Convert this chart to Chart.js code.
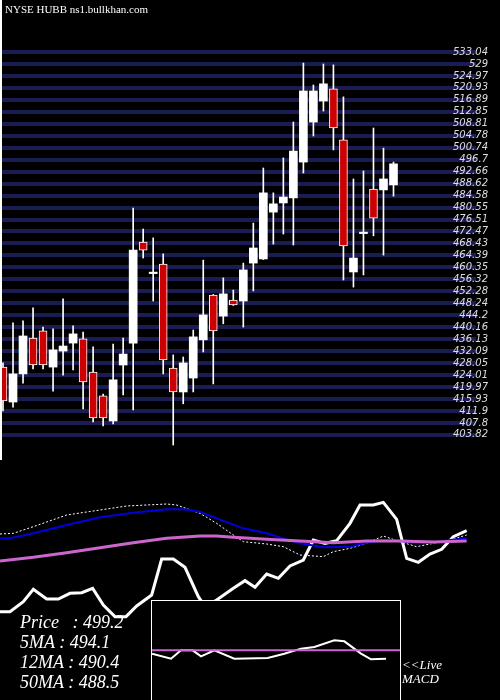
<!doctype html>
<html>
<head>
<meta charset="utf-8">
<script src="https://cdn.jsdelivr.net/npm/chart.js@4"></script>
<style>
  body { margin: 0; background: #000; }
  #wrap { position: relative; width: 500px; height: 700px; background: #000; overflow: hidden; }
  canvas { position: absolute; }
  .t { position: absolute; color: #fff; font-family: "Liberation Serif", serif; font-style: italic; white-space: nowrap; }
  #macdBox { position: absolute; left: 151px; top: 600px; width: 248px; height: 110px; border: 1px solid #fff; background: #000; }
</style>
</head>
<body>
<div id="wrap">
  <canvas id="price" width="500" height="496" style="left:0;top:-17px"></canvas>
  <canvas id="ind" width="500" height="220" style="left:0;top:480px"></canvas>
  <div id="macdBox"><canvas id="macd" width="248" height="100" style="left:0;top:0"></canvas></div>
  <div class="t" style="left:5px;top:3px;font-size:11px;font-style:normal">NYSE HUBB ns1.bullkhan.com</div>
  <div class="t" style="left:20px;top:612px;font-size:18px">Price &nbsp;&nbsp;: 499.2</div>
  <div class="t" style="left:20px;top:632px;font-size:18px">5MA : 494.1</div>
  <div class="t" style="left:20px;top:652px;font-size:18px">12MA : 490.4</div>
  <div class="t" style="left:20px;top:672px;font-size:18px">50MA : 488.5</div>
  <div class="t" style="left:402px;top:657px;font-size:13px">&lt;&lt;Live</div>
  <div class="t" style="left:402px;top:671px;font-size:13px">MACD</div>
</div>
<script>
// candles (oldest -> newest)
const opens  = [426.7,414.9,424.4,436.5,438.9,426.7,432.1,434.8,436.2,425.0,417.0,408.5,427.4,434.8,468.9,458.5,461.5,426.4,418.3,423.0,
                435.9,451.0,443.9,449.3,449.0,461.8,463.2,479.0,482.1,483.8,495.9,509.4,516.5,520.6,503.4,458.8,472.0,486.8,486.5,488.2];
const closes = [415.3,424.4,437.2,427.4,427.4,432.5,433.8,437.9,421.7,409.5,409.5,422.4,431.1,466.2,466.2,458.6,429.1,418.3,428.1,436.9,
                444.3,438.9,451.4,447.7,459.5,466.9,485.5,481.8,484.1,499.6,519.9,519.9,522.3,507.4,467.6,463.5,472.1,477.0,490.2,495.3];
const highs  = [428.1,441.6,442.3,446.7,440.2,439.6,449.7,440.6,438.5,433.5,417.6,434.5,436.5,480.4,473.3,470.3,464.9,430.8,430.1,439.2,
                462.8,451.2,456.8,452.7,461.8,475.3,493.9,485.5,497.3,509.4,529.3,521.9,529.0,528.7,517.9,490.2,492.9,507.4,500.6,495.9];
const lows   = [411.9,413.2,421.3,426.1,426.1,418.6,424.0,425.7,412.6,408.2,406.8,407.5,417.3,412.2,463.5,449.0,424.4,400.4,414.3,418.3,
                431.8,421.0,441.3,447.5,440.2,452.4,463.0,468.2,471.6,467.9,492.2,504.7,513.1,500.0,456.1,453.7,457.8,471.0,464.5,484.4];
const tickLabels = [403.82,407.8,411.9,415.93,419.97,424.01,428.05,432.09,436.13,440.16,444.2,448.24,452.28,456.32,460.35,464.39,
                    468.43,472.47,476.51,480.55,484.58,488.62,492.66,496.7,500.74,504.78,508.81,512.85,516.89,520.93,524.97,529,533.04];

// indicator lines, read as [x, y] from the lower panel
const ma5Line  = [[0,162],[40,160],[100,140],[200,105],[300,90],[380,78],[500,72],[530,75],[600,100],[650,130],[700,165],[730,185],[800,192],
                  [850,200],[900,225],[970,230],[1000,215],[1050,205],[1100,190],[1150,168],[1200,185],[1250,200],[1300,190],[1350,180],[1400,165]];
const ma12Line = [[0,175],[30,175],[100,160],[200,135],[300,112],[400,98],[500,88],[550,88],[600,95],[650,115],[730,145],[800,160],[850,175],
                  [900,190],[970,202],[1050,200],[1100,188],[1150,180],[1200,183],[1250,190],[1300,188],[1350,180],[1400,175]];
const ma50Line = [[0,243],[100,232],[200,218],[300,203],[400,188],[500,175],[600,168],[650,168],[700,172],[800,178],[900,183],[1000,188],
                  [1100,183],[1200,183],[1300,186],[1400,183]];
const oscLine  = [[0,395],[30,395],[70,365],[100,328],[140,357],[175,357],[210,340],[245,338],[278,325],[310,375],[345,410],[378,410],
                  [410,378],[455,345],[485,237],[520,237],[555,262],[595,350],[615,380],[650,360],[700,325],[735,302],[765,322],[800,282],
                  [835,295],[870,258],[910,240],[940,180],[975,190],[1010,182],[1050,130],[1080,75],[1120,75],[1150,67],[1190,118],
                  [1220,235],[1255,247],[1290,222],[1325,208],[1360,170],[1400,152]];
const macdLine   = [[453,520],[510,535],[540,510],[575,510],[600,528],[640,510],[700,535],[800,533],[850,520],[900,505],[940,500],
                    [1000,480],[1030,483],[1080,520],[1110,537],[1155,535]];
const signalLine = [[453,510],[1200,510]];

const RED = '#cc0000';
const idx = opens.map((_, i) => i);
const up = idx.map(i => closes[i] >= opens[i]);

new Chart(document.getElementById('price'), {
  type: 'bar',
  data: {
    datasets: [
      { data: idx.map(i => ({ x: i, y: [lows[i], highs[i]] })), backgroundColor: '#fff', barThickness: 1, grouped: false, order: 2 },
      { data: idx.map(i => ({ x: i, y: Math.abs(opens[i] - closes[i]) < 0.4 ? [opens[i] - 0.25, opens[i] + 0.25] : [opens[i], closes[i]] })),
        backgroundColor: idx.map(i => up[i] ? '#fff' : RED), borderColor: '#fff', borderWidth: idx.map(i => up[i] ? 0 : 1),
        borderSkipped: false, barThickness: 8, grouped: false, order: 1 }
    ]
  },
  options: {
    responsive: false, animation: false, devicePixelRatio: 1,
    layout: { padding: 0 },
    plugins: { legend: { display: false }, tooltip: { enabled: false } },
    scales: {
      x: { type: 'linear', offset: false, min: -0.3, max: 47.24, display: false },
      y: {
        position: 'right', min: 395.0, max: 550.26,
        afterBuildTicks: s => { s.ticks = tickLabels.map(v => ({ value: v })); },
        grid: { color: '#1c1c55', lineWidth: 4, drawTicks: false },
        border: { display: false },
        ticks: { mirror: true, autoSkip: false, padding: 12, color: '#ddd', font: { family: 'DejaVu Sans', size: 10, style: 'italic' },
                 callback: v => String(v) }
      }
    }
  },
  plugins: [{
    id: 'leftEdge',
    afterDraw(c) { c.ctx.fillStyle = '#fff'; c.ctx.fillRect(0, 17, 2, 460); }
  }, {
    id: 'bg',
    beforeDraw(c) { c.ctx.fillStyle = '#000'; c.ctx.fillRect(0, 0, c.width, c.height); }
  }]
});

const toInd = arr => arr.map(p => ({ x: p[0] / 30, y: 220 - p[1] / 3 }));
new Chart(document.getElementById('ind'), {
  type: 'line',
  data: {
    datasets: [
      { data: toInd(ma50Line), borderColor: '#cc66cc', borderWidth: 3 },
      { data: toInd(ma12Line), borderColor: '#0000dd', borderWidth: 2 },
      { data: toInd(ma5Line), borderColor: '#fff', borderWidth: 1, borderDash: [2, 2] },
      { data: toInd(oscLine), borderColor: '#fff', borderWidth: 3 }
    ]
  },
  options: {
    responsive: false, animation: false, devicePixelRatio: 1,
    layout: { padding: 0 }, elements: { point: { radius: 0 } },
    plugins: { legend: { display: false }, tooltip: { enabled: false } },
    scales: { x: { type: 'linear', min: 0, max: 50, display: false }, y: { min: 0, max: 220, display: false } }
  }
});

const toMacd = arr => arr.map(p => ({ x: (p[0] - 453) / 3, y: 100 - (p[1] - 362) / 3 }));
new Chart(document.getElementById('macd'), {
  type: 'line',
  data: {
    datasets: [
      { data: toMacd(signalLine), borderColor: '#cc66cc', borderWidth: 2 },
      { data: toMacd(macdLine), borderColor: '#fff', borderWidth: 2 }
    ]
  },
  options: {
    responsive: false, animation: false, devicePixelRatio: 1,
    layout: { padding: 0 }, elements: { point: { radius: 0 } },
    plugins: { legend: { display: false }, tooltip: { enabled: false } },
    scales: { x: { type: 'linear', min: 0, max: 248, display: false }, y: { min: 0, max: 100, display: false } }
  }
});
</script>
</body>
</html>
